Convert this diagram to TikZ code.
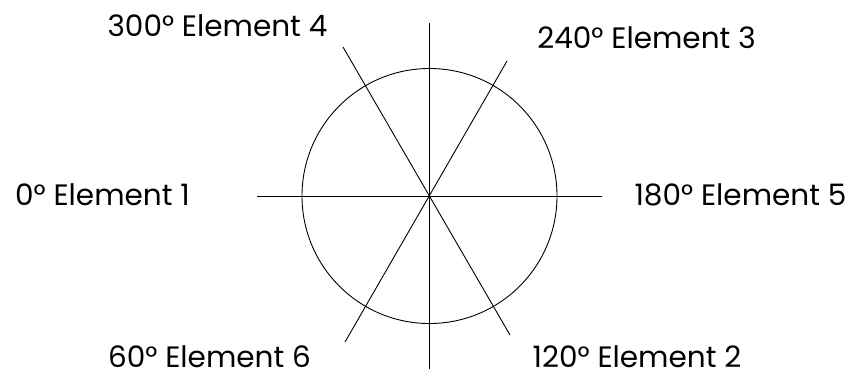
\documentclass[tikz,border=0pt]{standalone}
\usepackage{fontspec}
\setmainfont{Poppins}
\begin{document}
\begin{tikzpicture}[x=1pt,y=-1pt,
  lbl/.style={inner sep=0pt,anchor=base,text depth=0pt,font=\fontsize{29.5}{34}\selectfont},
  ln/.style={line width=0.9pt,black}]
\useasboundingbox (0,0) rectangle (858,376);
\coordinate (c) at (429.5,196);
\node[ln,draw,circle,minimum size=255pt,inner sep=0pt] (circ) at (c) {};
\coordinate (h1) at (257,196);
\coordinate (h2) at (602,196);
\coordinate (v1) at (429.5,23);
\coordinate (v2) at (429.5,369);
\coordinate (a1) at (343,47);
\coordinate (a2) at (510,335);
\coordinate (b1) at (507,61);
\coordinate (b2) at (345,342);
\draw[ln] (h1) -- (h2);
\draw[ln] (v1) -- (v2);
\draw[ln] (a1) -- (a2);
\draw[ln] (b1) -- (b2);
\node[lbl] (e4) at (217.5,36) {300° Element 4};
\node[lbl] (e3) at (646.5,48) {240° Element 3};
\node[lbl] (e1) at (102.5,205) {0° Element 1};
\node[lbl] (e5) at (740.5,205) {180° Element 5};
\node[lbl] (e6) at (209.5,367) {60° Element 6};
\node[lbl] (e2) at (637,367) {120° Element 2};
\end{tikzpicture}
\end{document}
